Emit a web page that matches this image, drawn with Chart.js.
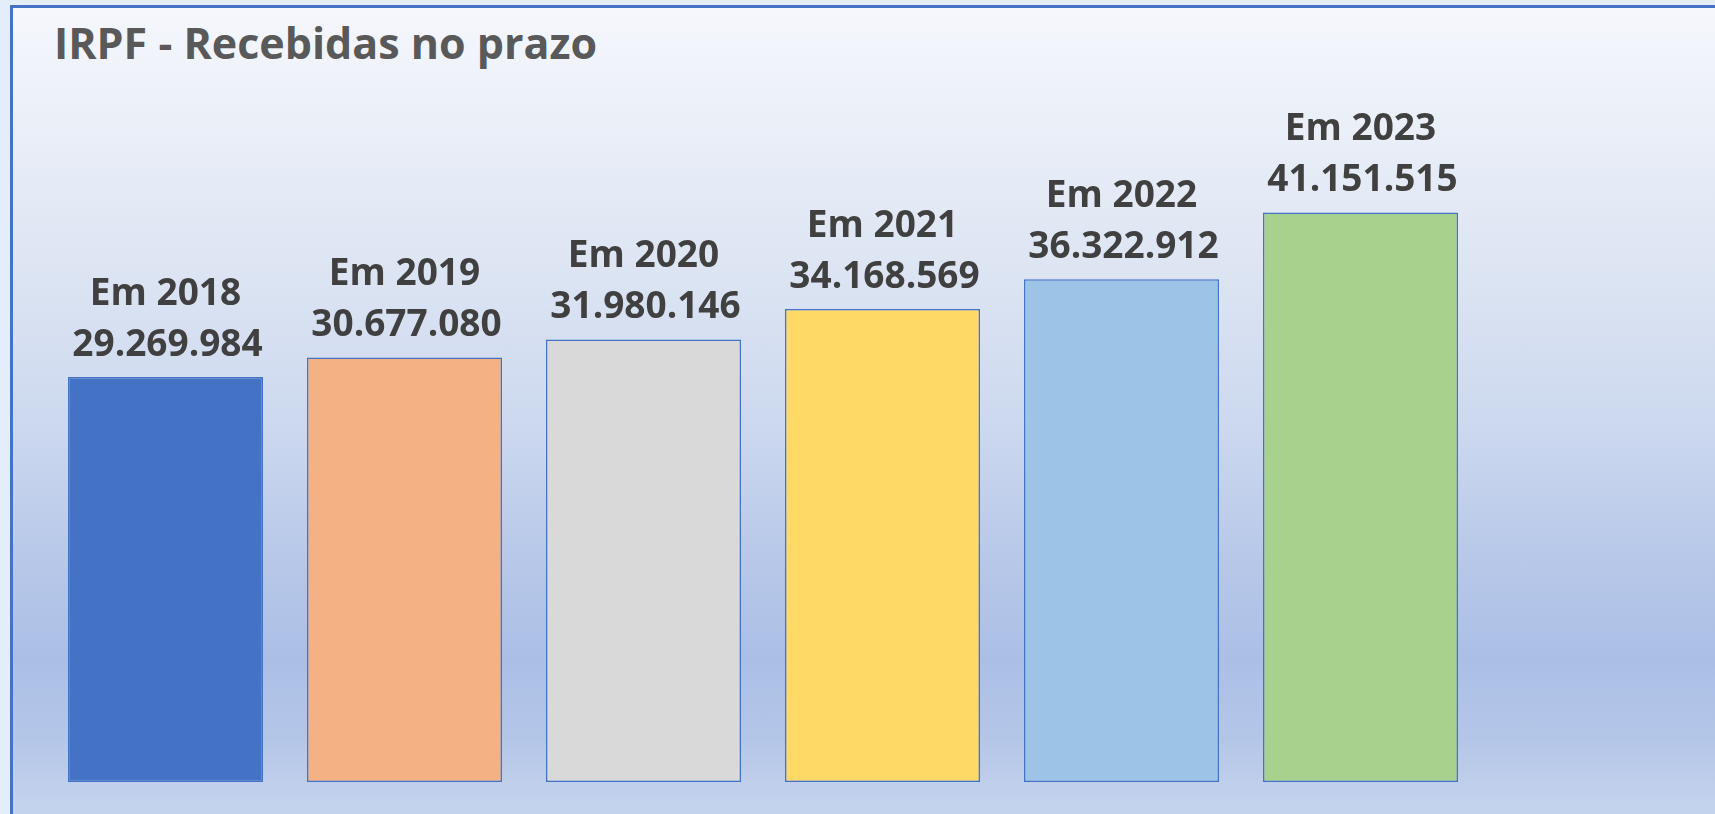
<!DOCTYPE html>
<html>
<head>
<meta charset="utf-8">
<title>IRPF - Recebidas no prazo</title>
<script src="https://cdn.jsdelivr.net/npm/chart.js@4.4.1/dist/chart.umd.min.js"></script>
<style>
  html, body { margin: 0; padding: 0; }
  body {
    width: 1715px; height: 814px; overflow: hidden; position: relative;
    background: #e4eefa;
  }
  #frame {
    position: absolute; left: 10px; top: 5px; width: 1720px; height: 820px;
    border-top: 3px solid #4472c4; border-left: 3px solid #4472c4;
    background: linear-gradient(to bottom,
      #f5f7fc 0px, #eaeff8 120px, #dde5f3 260px, #ccd8ef 420px,
      #b6c7e8 560px, #abbfe6 650px, #b4c6e8 730px, #c4d3ed 800px);
  }
  #title {
    position: absolute; left: 54px; top: 13px;
    font-family: "Open Sans", sans-serif; font-weight: 700; font-size: 43px;
    color: #595959; white-space: nowrap; line-height: 60px;
  }
  #irpfChart { position: absolute; left: 0; top: 0; }
</style>
</head>
<body>
<div id="frame"></div>
<div id="title">IRPF - Recebidas no prazo</div>
<canvas id="irpfChart" width="1715" height="814"></canvas>
<script>
// declarações recebidas no prazo, por ano
const anos = ['2018', '2019', '2020', '2021', '2022', '2023'];
const recebidas = [29269984, 30677080, 31980146, 34168569, 36322912, 41151515];
const cores = ['#4472c4', '#f4b183', '#d9d9d9', '#ffd966', '#9dc3e6', '#a9d18e'];

function formata(n) {
    return String(n).replace(/\B(?=(\d{3})+(?!\d))/g, '.');
}

const rotulos = {
    id: 'rotulos',
    afterDatasetsDraw(chart) {
        const ctx = chart.ctx;
        const meta = chart.getDatasetMeta(0);
        ctx.save();
        ctx.font = 'bold 37px "Open Sans", sans-serif';
        ctx.fillStyle = '#404040';
        ctx.textAlign = 'center';
        ctx.textBaseline = 'alphabetic';
        meta.data.forEach((bar, i) => {
            ctx.fillText(formata(recebidas[i]), bar.x + 2, bar.y - 21);
            ctx.fillText('Em ' + anos[i], bar.x, bar.y - 72);
        });
        ctx.restore();
    }
};

const ctx1 = document.getElementById('irpfChart').getContext('2d');
new Chart(ctx1, {
    type: 'bar',
    data: {
        labels: anos,
        datasets: [{
            label: 'Recebidas no prazo',
            data: recebidas,
            backgroundColor: cores,
            borderColor: '#4472c4',
            borderWidth: 1.5,
            borderSkipped: false,
            barPercentage: 0.816,
            categoryPercentage: 1
        }]
    },
    options: {
        responsive: false,
        animation: false,
        layout: {
            padding: { left: 46, right: 235, top: 90, bottom: 32 }
        },
        plugins: {
            legend: { display: false },
            tooltip: { enabled: false }
        },
        scales: {
            x: { display: false },
            y: { display: false, min: 0, max: 50000000 }
        }
    },
    plugins: [rotulos]
});
</script>
</body>
</html>
